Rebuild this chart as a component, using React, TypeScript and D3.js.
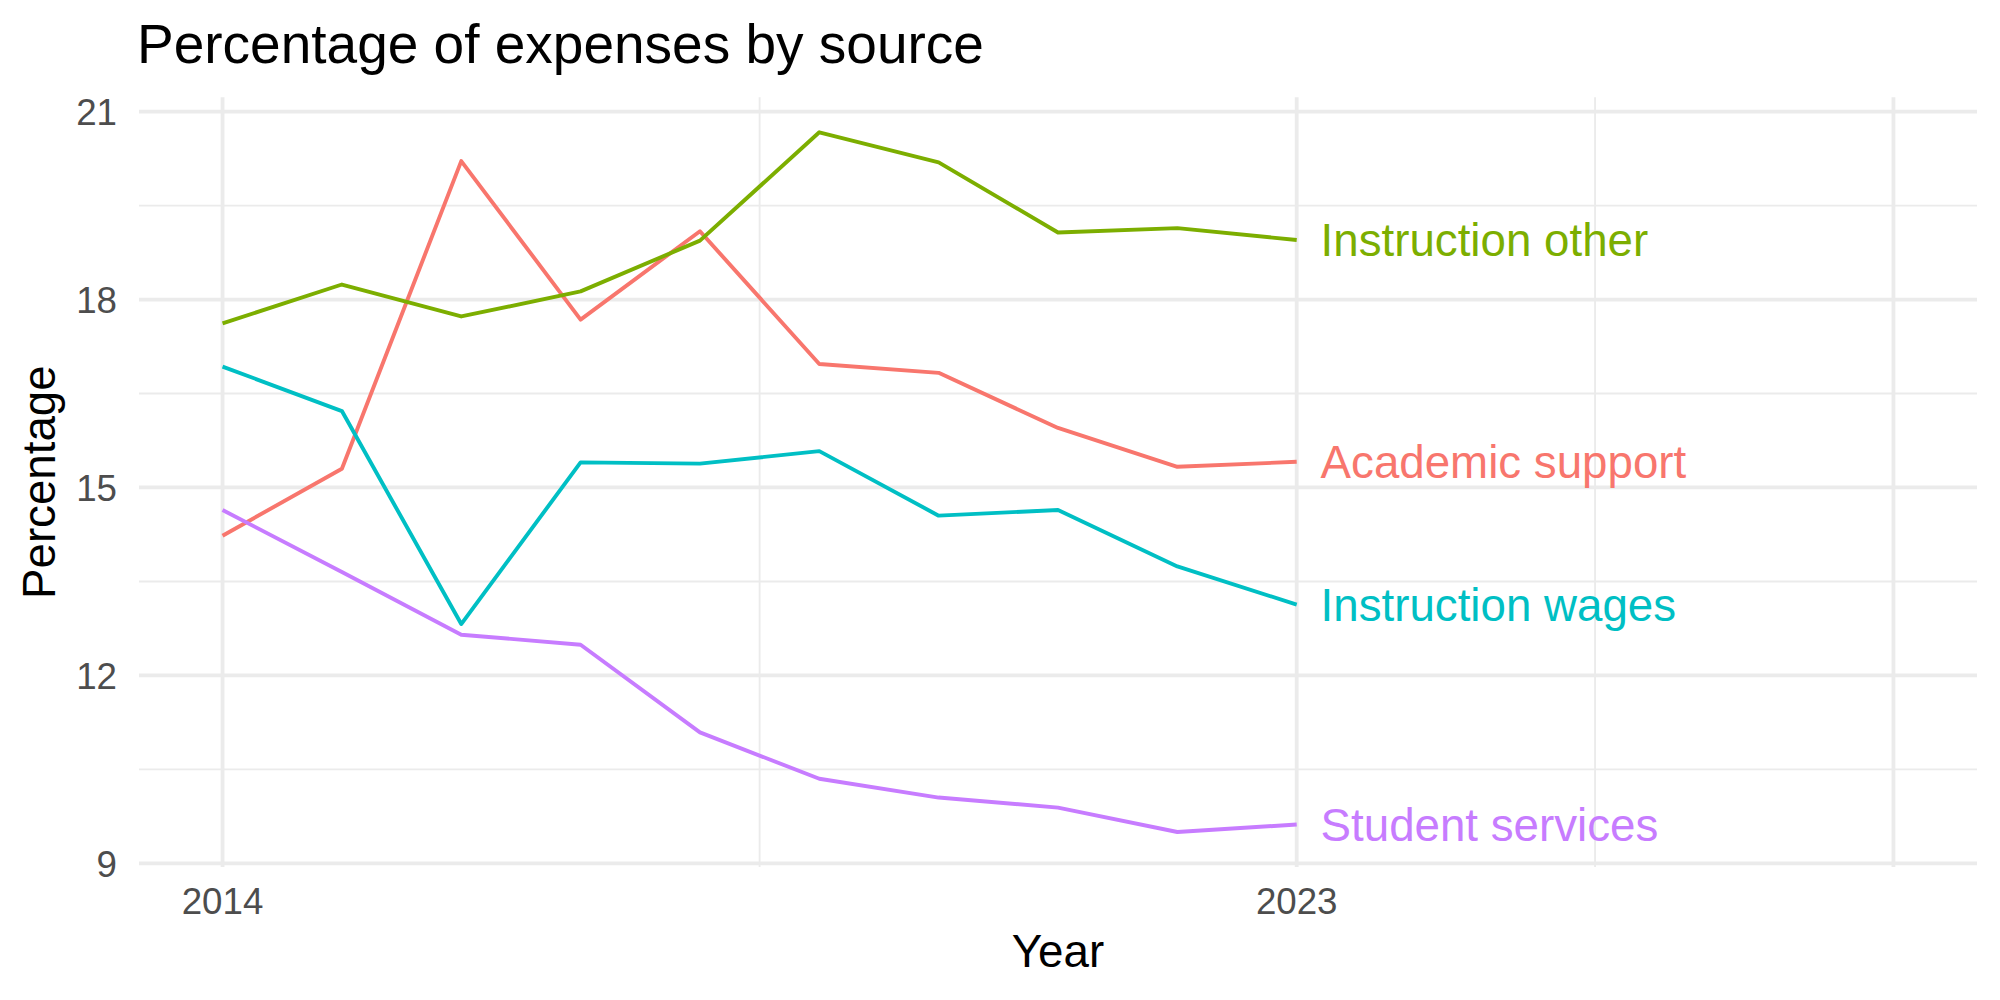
import React from "react";
import * as d3 from "d3";

// Share of expenses by source, fiscal years 2014–2023
const years = [2014, 2015, 2016, 2017, 2018, 2019, 2020, 2021, 2022, 2023];
const academicSupport = [14.23, 15.3, 20.21, 17.68, 19.09, 16.97, 16.83, 15.95, 15.33, 15.41];
const instructionOther = [17.62, 18.24, 17.73, 18.13, 18.94, 20.67, 20.19, 19.07, 19.14, 18.95];
const instructionWages = [16.93, 16.22, 12.82, 15.4, 15.38, 15.58, 14.55, 14.64, 13.74, 13.13];
const studentServices = [14.64, 13.65, 12.65, 12.49, 11.09, 10.35, 10.05, 9.89, 9.5, 9.62];

const seriesNames = ["Academic support", "Instruction other", "Instruction wages", "Student services"];
const seriesColors = ["#F8766D", "#7CAE00", "#00BFC4", "#C77CFF"];
const seriesValues = [academicSupport, instructionOther, instructionWages, studentServices];

const xRange = [2014, 2028];
const xMajorBreaks = [2014, 2023, 2028];
const xBreakLabels = ["2014", "2023", ""];
const xMinorBreaks = [2018.5, 2025.5];
const yMajorBreaks = [9, 12, 15, 18, 21];
const yMinorBreaks = [10.5, 13.5, 16.5, 19.5];
const labelNudge = 0.2;

const W = 2000;
const H = 1000;
const panel = { left: 139, right: 1977, top: 97.3, bottom: 867 };
const GRID = "#EBEBEB";
const FONT = "'Liberation Sans', Arial, Helvetica, sans-serif";

function expand(lo: number, hi: number): [number, number] {
  const pad = (hi - lo) * 0.05;
  return [lo - pad, hi + pad];
}

export default function App() {
  const allVals = seriesValues.flat();
  const yExt = d3.extent(allVals) as [number, number];

  const x = d3.scaleLinear().domain(expand(xRange[0], xRange[1])).range([panel.left, panel.right]);
  const y = d3.scaleLinear().domain(expand(yExt[0], yExt[1])).range([panel.bottom, panel.top]);

  const line = d3
    .line<[number, number]>()
    .x((d) => x(d[0]))
    .y((d) => y(d[1]));

  const lastYear = years[years.length - 1];

  return (
    <svg
      width={W}
      height={H}
      viewBox={`0 0 ${W} ${H}`}
      style={{ position: "absolute", left: 0, top: 0, background: "#fff" }}
      fontFamily={FONT}
    >
      <rect x={0} y={0} width={W} height={H} fill="#fff" />

      {/* minor grid */}
      {yMinorBreaks.map((v) => (
        <line key={`ym${v}`} x1={panel.left} x2={panel.right} y1={y(v)} y2={y(v)} stroke={GRID} strokeWidth={1.9} />
      ))}
      {xMinorBreaks.map((v) => (
        <line key={`xm${v}`} x1={x(v)} x2={x(v)} y1={panel.top} y2={panel.bottom} stroke={GRID} strokeWidth={1.9} />
      ))}
      {/* major grid */}
      {yMajorBreaks.map((v) => (
        <line key={`yM${v}`} x1={panel.left} x2={panel.right} y1={y(v)} y2={y(v)} stroke={GRID} strokeWidth={3.8} />
      ))}
      {xMajorBreaks.map((v) => (
        <line key={`xM${v}`} x1={x(v)} x2={x(v)} y1={panel.top} y2={panel.bottom} stroke={GRID} strokeWidth={3.8} />
      ))}

      {/* series lines */}
      {seriesValues.map((vals, i) => (
        <path
          key={seriesNames[i]}
          d={line(years.map((yr, j) => [yr, vals[j]] as [number, number])) || ""}
          fill="none"
          stroke={seriesColors[i]}
          strokeWidth={3.9}
          strokeLinejoin="round"
        />
      ))}

      {/* end labels */}
      {seriesValues.map((vals, i) => (
        <text
          key={`lab${i}`}
          x={x(lastYear + labelNudge)}
          y={y(vals[vals.length - 1])}
          dy="0.36em"
          fontSize={45.7}
          fill={seriesColors[i]}
          textAnchor="start"
        >
          {seriesNames[i]}
        </text>
      ))}

      {/* y tick labels */}
      {yMajorBreaks.map((v) => (
        <text key={`yt${v}`} x={117} y={y(v)} dy="0.36em" fontSize={36.7} fill="#4D4D4D" textAnchor="end">
          {v}
        </text>
      ))}
      {/* x tick labels */}
      {xMajorBreaks.map((v, i) => (
        <text key={`xt${v}`} x={x(v)} y={914} fontSize={36.7} fill="#4D4D4D" textAnchor="middle">
          {xBreakLabels[i]}
        </text>
      ))}

      {/* axis titles */}
      <text x={(panel.left + panel.right) / 2} y={967} fontSize={45.7} fill="#000" textAnchor="middle">
        Year
      </text>
      <text
        transform={`translate(55, ${(panel.top + panel.bottom) / 2}) rotate(-90)`}
        fontSize={45.7}
        fill="#000"
        textAnchor="middle"
      >
        Percentage
      </text>

      {/* title */}
      <text x={137} y={62.7} fontSize={55} fill="#000">
        Percentage of expenses by source
      </text>
    </svg>
  );
}
